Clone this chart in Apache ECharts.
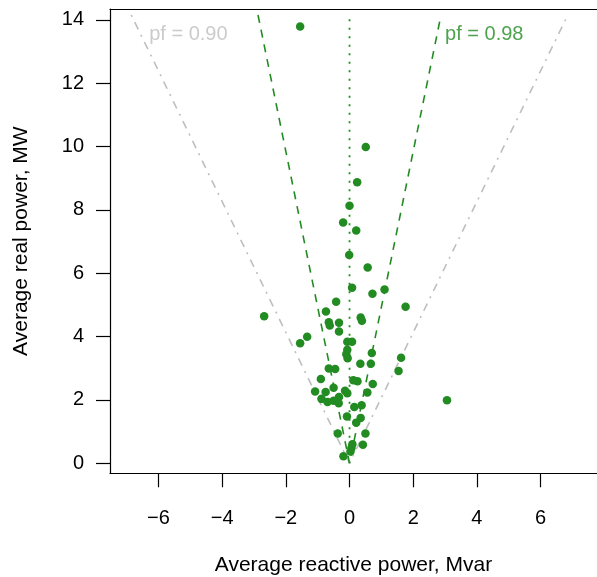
<!DOCTYPE html>
<html><head><meta charset="utf-8">
<script src="https://cdn.jsdelivr.net/npm/echarts@6/dist/echarts.min.js"></script>
<style>html,body{margin:0;padding:0;background:#fff}#c{width:597px;height:577px}</style>
</head><body><div id="c"></div>
<script>
// Average reactive power (Mvar) and average real power (MW) per site
const reactivePower = [
 -1.55, 0.51, 0.24, 0.00, -0.20, 0.21, -0.01, 0.57, 0.08, 0.72,
  1.10, -0.42, 1.76, -0.74, -2.68, 0.35, 0.39, -0.65, -0.33, -0.62,
 -0.33, -1.33, -1.55, -0.07, 0.08, -0.07, -0.10, -0.06, 0.70, 0.67,
  0.34, 1.62, 1.54, -0.65, -0.45, -0.90, 0.12, 0.25, 0.73, 0.56,
 -1.08, -0.75, -0.50, -0.14, -0.07, -0.88, -0.69, -0.50, -0.33, -0.34,
  3.06, 0.15, 0.38, -0.08, 0.35, 0.21, -0.37, 0.50, 0.42, 0.09,
  0.03, -0.19, 0.06
];
const realPower = [
 13.79, 9.98, 8.87, 8.13, 7.60, 7.35, 6.57, 6.18, 5.54, 5.35,
  5.48, 5.10, 4.94, 4.79, 4.64, 4.60, 4.50, 4.45, 4.43, 4.35,
  4.16, 3.99, 3.79, 3.83, 3.83, 3.58, 3.44, 3.31, 3.48, 3.14,
  3.14, 3.33, 2.91, 2.99, 2.97, 2.66, 2.62, 2.59, 2.50, 2.23,
  2.26, 2.25, 2.38, 2.29, 2.21, 2.03, 1.93, 1.97, 2.09, 1.89,
  1.99, 1.77, 1.83, 1.47, 1.43, 1.28, 0.94, 0.94, 0.58, 0.60,
  0.37, 0.22, 0.48
];
const xTicks = [-6, -4, -2, 0, 2, 4, 6];
const yTicks = [0, 2, 4, 6, 8, 10, 12, 14];
const pfValues = [0.90, 0.98];
const pfLabels = ['pf = 0.90', 'pf = 0.98'];
const lineTopP = 14.15;

const GREEN = '#228B22', GRAY = '#BEBEBE';
const FONT = '"Liberation Sans", Arial, Helvetica, sans-serif';
const minusFmt = v => (v < 0 ? '\u2212' + Math.abs(v) : String(v));

const points = reactivePower.map((q, i) => [q, realPower[i]]);
function pfLine(pf) {
  const q = lineTopP * Math.tan(Math.acos(pf));
  return [[-q, lineTopP], [0, 0], [q, lineTopP]];
}

const X_MIN = -7.52, X_MAX = 7.77, Y_MIN = -0.32, Y_MAX = 14.34;
const axisLine = {show: true, onZero: false, lineStyle: {color: '#000', width: 1.2}};

const chart = echarts.init(document.getElementById('c'), null, {renderer: 'canvas'});
chart.setOption({
  animation: false,
  backgroundColor: '#fff',
  textStyle: {fontFamily: FONT},
  grid: {left: 110, top: 9, right: 0, height: 464.3, show: false,
         containLabel: false, outerBoundsMode: 'none'},
  xAxis: [{
    type: 'value', min: X_MIN, max: X_MAX, position: 'bottom',
    axisLine: axisLine, splitLine: {show: false},
    axisTick: {show: true, inside: false, length: 14, customValues: xTicks,
               lineStyle: {color: '#000', width: 1.2}},
    axisLabel: {customValues: xTicks, formatter: minusFmt, fontSize: 20,
                color: '#000', margin: 35, fontFamily: FONT},
    name: 'Average reactive power, Mvar', nameLocation: 'middle', nameGap: 81,
    nameTextStyle: {fontSize: 21, color: '#000', fontFamily: FONT}
  }, {
    type: 'value', min: X_MIN, max: X_MAX, position: 'top',
    axisLine: axisLine, splitLine: {show: false},
    axisTick: {show: false}, axisLabel: {show: false}
  }],
  yAxis: {
    type: 'value', min: Y_MIN, max: Y_MAX,
    axisLine: axisLine, splitLine: {show: false},
    axisTick: {show: true, inside: false, length: 14, customValues: yTicks,
               lineStyle: {color: '#000', width: 1.2}},
    axisLabel: {customValues: yTicks, formatter: minusFmt, fontSize: 20,
                color: '#000', margin: 26, fontFamily: FONT},
    name: 'Average real power, MW', nameLocation: 'middle', nameGap: 78,
    nameRotate: 90,
    nameTextStyle: {fontSize: 21, color: '#000', fontFamily: FONT}
  },
  series: [
    {type: 'line', data: pfLine(pfValues[0]), symbol: 'none', silent: true,
     lineStyle: {color: GRAY, width: 1.6, type: [2, 6, 8, 6]}, z: 1},
    {type: 'line', data: pfLine(pfValues[1]), symbol: 'none', silent: true,
     lineStyle: {color: GREEN, width: 1.6, type: [8, 7]}, z: 1},
    {type: 'line', data: [[0, 0], [0, lineTopP]], symbol: 'none', silent: true,
     lineStyle: {color: GREEN, width: 1.8, type: [2, 6.5]}, z: 1},
    {type: 'scatter', data: points, symbolSize: 8.5, z: 3,
     itemStyle: {color: GREEN, opacity: 1}},
    {type: 'scatter', symbolSize: 0, silent: true, z: 4,
     data: [
       {value: [-6.29, 13.55], label: {formatter: pfLabels[0], color: GRAY}},
       {value: [3.0, 13.55], label: {formatter: pfLabels[1], color: GREEN}}
     ],
     label: {show: true, position: [0, 0], align: 'left', verticalAlign: 'middle',
             fontSize: 20, fontFamily: FONT}}
  ]
});
</script></body></html>
